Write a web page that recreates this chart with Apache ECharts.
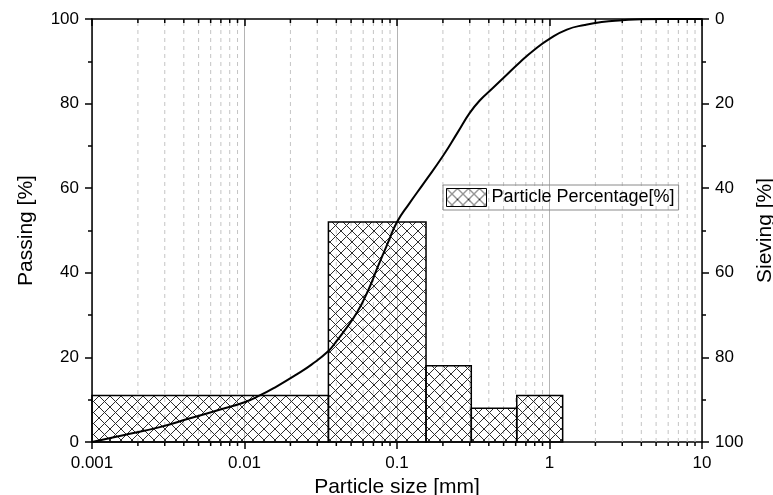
<!DOCTYPE html>
<html>
<head>
<meta charset="utf-8">
<script src="https://cdn.jsdelivr.net/npm/echarts@6/dist/echarts.min.js"></script>
<style>html,body{margin:0;padding:0;background:#fff}#c{width:773px;height:495px}</style>
</head>
<body>
<div id="c"></div>
<script>
// ---- data ----
var xTickLabels = ['0.001', '0.01', '0.1', '1', '10'];
var yLeftTicks = [0, 20, 40, 60, 80, 100];
var minorX = [0.002,0.003,0.004,0.005,0.006,0.007,0.008,0.009,
              0.02,0.03,0.04,0.05,0.06,0.07,0.08,0.09,
              0.2,0.3,0.4,0.5,0.6,0.7,0.8,0.9,
              2,3,4,5,6,7,8,9];
var binLower = [0.001, 0.0355, 0.155, 0.307, 0.61];
var binUpper = [0.0355, 0.155, 0.307, 0.61, 1.22];
var binPercent = [11, 52, 18, 8, 11];
var curveSize = [0.001,0.0016,0.0027,0.0044,0.0073,0.01,0.0126,0.016,0.022,0.0275,0.0355,0.04,0.045,0.055,0.065,0.075,0.087,0.1,0.12,0.15,0.2,0.25,0.3,0.35,0.42,0.5,0.64,0.8,1.0,1.3,1.7,2.2,3.0,4.0,5.5,10];
var curvePassing = [0,1.6,3.4,5.6,7.9,9.4,11.0,13.0,16.0,18.3,21.5,23.8,26.2,30.8,36,41.5,47,52,56.3,61.2,67.6,73.2,77.8,80.8,83.5,86.1,89.8,92.8,95.3,97.5,98.6,99.3,99.7,99.95,100,100];

// ---- hatch pattern ----
var P = 11;
var cv = document.createElement('canvas');
cv.width = P; cv.height = P;
var cx = cv.getContext('2d');
cx.strokeStyle = '#2e2e2e';
cx.lineWidth = 1;
cx.beginPath();
cx.moveTo(-1, -1); cx.lineTo(P + 1, P + 1);
cx.moveTo(P + 1, -1); cx.lineTo(-1, P + 1);
cx.stroke();
var hatch = { image: cv, repeat: 'repeat' };

var FONT = 'Liberation Sans, Arial, sans-serif';
var chart = echarts.init(document.getElementById('c'), null, { renderer: 'canvas' });

var barData = binLower.map(function (v, i) { return [v, binUpper[i], binPercent[i]]; });
var curveData = curveSize.map(function (v, i) { return [v, curvePassing[i]]; });
var minorData = minorX.map(function (v) { return [v, 0]; });

var option = {
  animation: false,
  backgroundColor: '#fff',
  grid: { left: 92, right: 71, top: 19, bottom: 53, containLabel: false, outerBoundsMode: 'none' },
  legend: {
    left: 443, top: 185,
    orient: 'vertical',
    padding: [3, 4, 3, 3],
    borderColor: '#8a8a8a', borderWidth: 1,
    itemWidth: 40, itemHeight: 18,
    textStyle: { fontFamily: FONT, fontSize: 18, color: '#000' },
    itemStyle: { color: hatch, borderColor: '#000', borderWidth: 1 },
    data: [{ name: 'Particle Percentage[%]', icon: 'rect' }],
    selectedMode: false
  },
  xAxis: [{
    type: 'log', logBase: 10, min: 0.001, max: 10, position: 'bottom',
    name: 'Particle size [mm]', nameLocation: 'middle', nameGap: 32,
    nameTextStyle: { fontFamily: FONT, fontSize: 21, color: '#000' },
    axisLine: { show: true, onZero: false, lineStyle: { color: '#000', width: 1.5 } },
    axisTick: { show: true, length: 7, lineStyle: { color: '#000', width: 1.5 } },
    axisLabel: { margin: 13, fontFamily: FONT, fontSize: 17, color: '#000',
      formatter: function (v, i) { return xTickLabels[i]; } },
    splitLine: { show: true, lineStyle: { color: '#b4b4b4', width: 1 } }
  }, {
    type: 'log', logBase: 10, min: 0.001, max: 10, position: 'top',
    axisLine: { show: true, onZero: false, lineStyle: { color: '#000', width: 1.5 } },
    axisTick: { show: true, inside: true, length: 7, lineStyle: { color: '#000', width: 1.5 } },
    axisLabel: { show: false },
    splitLine: { show: false }
  }],
  yAxis: [{
    type: 'value', min: 0, max: 100, interval: 20, position: 'left',
    name: 'Passing [%]', nameLocation: 'middle', nameGap: 55, nameRotate: 90,
    nameTextStyle: { fontFamily: FONT, fontSize: 21, color: '#000' },
    axisLine: { show: true, onZero: false, lineStyle: { color: '#000', width: 1.5 } },
    axisTick: { show: true, length: 7, lineStyle: { color: '#000', width: 1.5 } },
    minorTick: { show: true, splitNumber: 2, length: 4, lineStyle: { color: '#000', width: 1.5 } },
    axisLabel: { margin: 13, fontFamily: FONT, fontSize: 17, color: '#000',
      formatter: function (v) { return yLeftTicks.indexOf(v) >= 0 ? String(v) : ''; } },
    splitLine: { show: false }
  }, {
    type: 'value', min: 0, max: 100, interval: 20, position: 'right', inverse: true,
    name: 'Sieving [%]', nameLocation: 'middle', nameGap: 49, nameRotate: 90,
    nameTextStyle: { fontFamily: FONT, fontSize: 21, color: '#000' },
    axisLine: { show: true, onZero: false, lineStyle: { color: '#000', width: 1.5 } },
    axisTick: { show: true, length: 7, lineStyle: { color: '#000', width: 1.5 } },
    minorTick: { show: true, splitNumber: 2, length: 4, lineStyle: { color: '#000', width: 1.5 } },
    axisLabel: { margin: 13, fontFamily: FONT, fontSize: 17, color: '#000' },
    splitLine: { show: false }
  }],
  series: [{
    type: 'custom', name: 'minor', xAxisIndex: 0, yAxisIndex: 0, z: 1, clip: false, silent: true,
    data: minorData,
    encode: { x: 0, y: 1 },
    renderItem: function (params, api) {
      var v = api.value(0);
      var pb = api.coord([v, 0]);
      var pt = api.coord([v, 100]);
      return { type: 'group', children: [
        { type: 'line', shape: { x1: pb[0], y1: pb[1], x2: pt[0], y2: pt[1] },
          style: { stroke: '#c4c4c4', lineWidth: 1, lineDash: [4, 4] } },
        { type: 'line', shape: { x1: pb[0], y1: pb[1], x2: pb[0], y2: pb[1] + 4 },
          style: { stroke: '#000', lineWidth: 1.5 } },
        { type: 'line', shape: { x1: pt[0], y1: pt[1], x2: pt[0], y2: pt[1] + 4 },
          style: { stroke: '#000', lineWidth: 1.5 } }
      ] };
    }
  }, {
    type: 'custom', name: 'Particle Percentage[%]', xAxisIndex: 0, yAxisIndex: 0, z: 2,
    itemStyle: { color: hatch, borderColor: '#000' },
    data: barData,
    encode: { x: [0, 1], y: 2 },
    renderItem: function (params, api) {
      var a = api.coord([api.value(0), api.value(2)]);
      var b = api.coord([api.value(1), 0]);
      return { type: 'rect', shape: { x: a[0], y: a[1], width: b[0] - a[0], height: b[1] - a[1] },
        style: { fill: hatch, stroke: '#000', lineWidth: 1.5 } };
    }
  }, {
    type: 'line', name: 'Passing', xAxisIndex: 0, yAxisIndex: 0, z: 3,
    data: curveData, smooth: 0.5, showSymbol: false, symbol: 'none',
    lineStyle: { color: '#000', width: 2 }
  }]
};
chart.setOption(option);
</script>
</body>
</html>
